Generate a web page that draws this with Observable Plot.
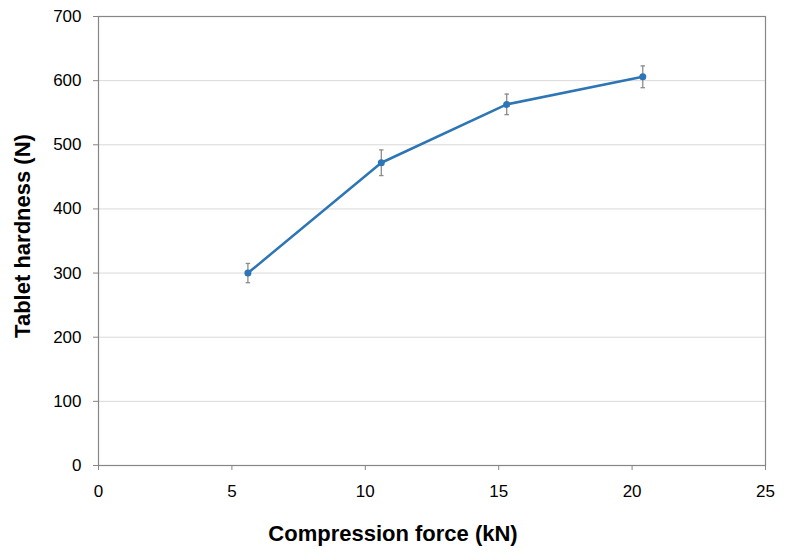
<!DOCTYPE html>
<html>
<head>
<meta charset="utf-8">
<script src="https://cdn.jsdelivr.net/npm/d3@7"></script>
<script src="https://cdn.jsdelivr.net/npm/@observablehq/plot@0.6"></script>
<style>
  html, body { margin: 0; padding: 0; background: #fff; }
</style>
</head>
<body>
<div id="chart"></div>
<script>
const force = [5.6, 10.6, 15.3, 20.4];
const hardness = [300, 472, 563, 606];
const errors = [15, 20, 16, 17];
const xTicks = [0, 5, 10, 15, 20, 25];
const yTicks = [0, 100, 200, 300, 400, 500, 600, 700];
const gridTicks = [100, 200, 300, 400, 500, 600];
const xTitle = "Compression force (kN)";
const yTitle = "Tablet hardness (N)";

const data = force.map((f, i) => ({x: f, y: hardness[i], lo: hardness[i] - errors[i], hi: hardness[i] + errors[i]}));

const capSymbol = {
  draw(context, size) {
    const w = Math.sqrt(size) / 2;
    context.moveTo(-w, 0);
    context.lineTo(w, 0);
  }
};

const font = "'Liberation Sans', Arial, sans-serif";
const axisColor = "#868686";

const chart = Plot.plot({
  width: 800,
  height: 554,
  marginLeft: 98,
  marginRight: 35,
  marginTop: 16,
  marginBottom: 89,
  style: {fontFamily: font, fontSize: "17px", color: "#000", background: "#fff"},
  x: {domain: [0, 25]},
  y: {domain: [0, 700]},
  marks: [
    Plot.ruleY(gridTicks, {stroke: "#d9d9d9", strokeWidth: 1}),
    Plot.frame({stroke: axisColor, strokeWidth: 1.2}),
    Plot.axisY(yTicks, {tickSize: 5, tickPadding: 12, fontSize: 17, stroke: axisColor, fill: "#000", label: null, strokeOpacity: 1}),
    Plot.axisX(xTicks, {tickSize: 5, tickPadding: 14, fontSize: 17, stroke: axisColor, fill: "#000", label: null, strokeOpacity: 1}),
    Plot.ruleX(data, {x: "x", y1: "lo", y2: "hi", stroke: "#8c8c8c", strokeWidth: 1.3}),
    Plot.dot(data, {x: "x", y: "lo", symbol: capSymbol, r: 2.5, stroke: "#8c8c8c", strokeWidth: 1.3, fill: "none"}),
    Plot.dot(data, {x: "x", y: "hi", symbol: capSymbol, r: 2.5, stroke: "#8c8c8c", strokeWidth: 1.3, fill: "none"}),
    Plot.line(data, {x: "x", y: "y", stroke: "#2e75b6", strokeWidth: 2.5}),
    Plot.dot(data, {x: "x", y: "y", r: 3.5, fill: "#2e75b6", stroke: "none"}),
    Plot.text([yTitle], {frameAnchor: "left", textAnchor: "middle", lineAnchor: "middle", dx: -76, dy: -5, rotate: -90, fontSize: 22, fontWeight: "bold", fill: "#000", text: d => d}),
    Plot.text([xTitle], {frameAnchor: "bottom", textAnchor: "middle", lineAnchor: "middle", dx: -39, dy: 68, fontSize: 22, fontWeight: "bold", fill: "#000", text: d => d})
  ]
});
document.getElementById("chart").appendChild(chart);
</script>
</body>
</html>
